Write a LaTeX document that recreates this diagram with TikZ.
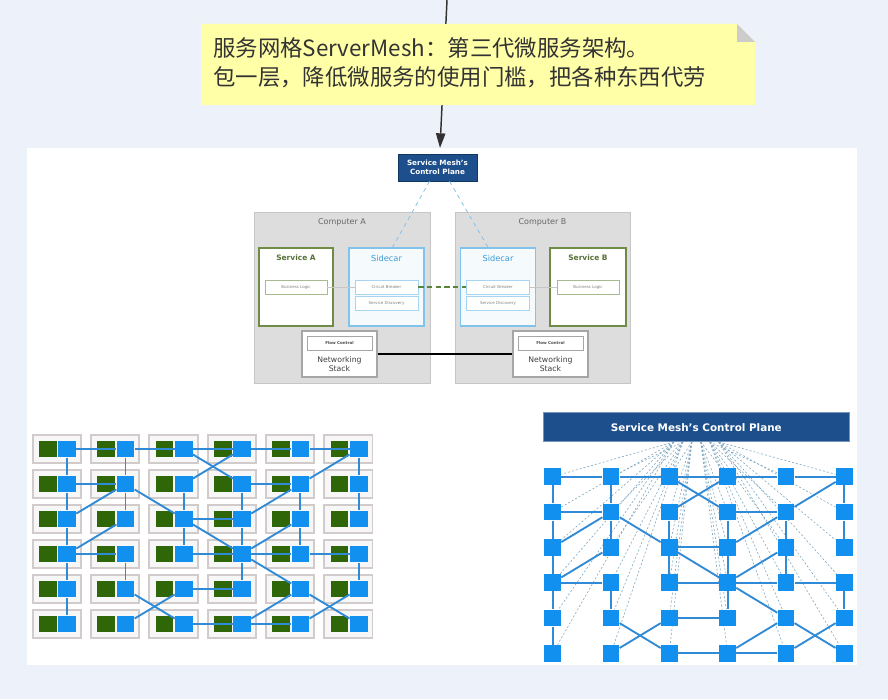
\documentclass[tikz,border=0pt]{standalone}
\usepackage{fontspec}
\setmainfont{DejaVu Sans}
\newfontfamily\cjk{Noto Sans CJK SC}
\usepackage{tikz}
\usetikzlibrary{arrows.meta, positioning, calc}
\definecolor{fondoPag}{RGB}{237,242,250}
\definecolor{notaAmar}{RGB}{255,255,168}
\definecolor{azulMesh}{RGB}{29,79,140}
\definecolor{azulNodo}{RGB}{18,144,240}
\definecolor{azulEnl}{RGB}{48,138,214}
\definecolor{azulSide}{RGB}{130,195,235}
\definecolor{azulTit}{RGB}{60,155,215}
\definecolor{verdeMesh}{RGB}{46,102,8}
\definecolor{verdeSrv}{RGB}{110,140,70}
\definecolor{grisComp}{RGB}{221,221,221}
\definecolor{grisCelda}{RGB}{210,203,203}
\definecolor{grisFlecha}{RGB}{50,50,50}
\pgfdeclarelayer{base}
\pgfdeclarelayer{trazos}
\pgfsetlayers{base,trazos,main}

\begin{document}
\begin{tikzpicture}[x=0.75pt, y=-0.75pt,
  flecha/.style={draw=grisFlecha, line width=1.1pt, -{Triangle[length=11pt, width=7pt]}},
  notetext/.style={font=\cjk\fontsize{16.8}{21.75}\selectfont, text=black!80, align=left, inner sep=0pt},
  cpbox/.style={fill=azulMesh, draw=azulMesh!70!black, text=white, align=center, inner sep=0pt,
    font=\bfseries\fontsize{5.4}{6.6}\selectfont},
  compbox/.style={fill=grisComp, draw=gray!45, minimum height=128.25pt, inner sep=0pt},
  complabel/.style={text=gray!80!black, font=\fontsize{6}{7}\selectfont, inner sep=0pt},
  srvbox/.style={fill=white, draw=verdeSrv, line width=1.1pt, minimum height=58.5pt, inner sep=0pt},
  srvtitle/.style={text=verdeSrv!80!black, font=\bfseries\fontsize{5.6}{7}\selectfont, inner sep=0pt},
  scbox/.style={fill=azulSide!8, draw=azulSide, line width=1.1pt, minimum width=56.25pt, minimum height=58.5pt, inner sep=0pt},
  sctitle/.style={text=azulTit, font=\fontsize{6.2}{7}\selectfont, inner sep=0pt},
  blbox/.style={fill=white, draw=verdeSrv!60, minimum width=46.5pt, minimum height=10.5pt, inner sep=0pt,
    text=gray, font=\fontsize{3}{3.5}\selectfont},
  cbbox/.style={fill=white, draw=azulSide!70, minimum width=47.25pt, minimum height=10.5pt, inner sep=0pt,
    text=gray, font=\fontsize{3}{3.5}\selectfont},
  netbox/.style={fill=white, draw=gray!70, line width=0.8pt, minimum width=56.25pt, minimum height=34.5pt, inner sep=0pt},
  fcbox/.style={fill=white, draw=gray!70, minimum width=48.75pt, minimum height=10.5pt, inner sep=0pt,
    text=black!70, font=\bfseries\fontsize{3}{3.5}\selectfont},
  nettext/.style={align=center, text=black!75, font=\fontsize{5.8}{7.2}\selectfont, inner sep=0pt},
  enlVerde/.style={draw=verdeMesh!80, line width=1.5pt, dash pattern=on 4pt off 2.5pt},
  enlNegro/.style={draw=black, line width=2.2pt},
  enlCtrl/.style={draw=azulSide, line width=0.6pt, dashed},
  celda/.style={draw=grisCelda, line width=1.4pt, fill=gray!6},
  cuadAzul/.style={fill=azulNodo, minimum width=13.3pt, minimum height=12.5pt, inner sep=0pt},
  cuadVerde/.style={fill=verdeMesh, minimum width=13.3pt, minimum height=12.5pt, inner sep=0pt},
  enlAzul/.style={draw=azulEnl, line width=1.4pt},
  enlPunt/.style={draw=azulSide!60!gray, line width=0.45pt, dash pattern=on 1.5pt off 1.5pt},
  cpbar/.style={fill=azulMesh, draw=azulMesh!60, text=white, inner sep=0pt,
    minimum width=229.5pt, minimum height=21.75pt, font=\bfseries\fontsize{7.8}{9}\selectfont}]

  % Fondo
  \begin{pgfonlayer}{base}
    \fill[fondoPag] (0,0) rectangle (888,699);
    \fill[white] (27,148) rectangle (857,665);
  \end{pgfonlayer}
  \useasboundingbox (0,0) rectangle (888,699);

  % Flecha y nota
  \coordinate (arrIni) at (447,0);
  \coordinate (arrFin) at (440,148);
  \draw[flecha] (arrIni) -- (arrFin);
  \fill[notaAmar] (201,24) -- (737,24) -- (755,42) -- (755,105) -- (201,105) -- cycle;
  \fill[gray!40] (737,24) -- (737,42) -- (755,42) -- cycle;
  \node[notetext, anchor=west] (nota) at (213,62.5)
    {服务网格ServerMesh：第三代微服务架构。\\包一层，降低微服务的使用门槛，把各种东西代劳};

  % Sidecar: plano de control y dos equipos
  \node[cpbox, minimum width=59.25pt, minimum height=20.25pt] (cpA) at (437.5,167.5) {Service Mesh's\\Control Plane};
  \node[compbox, minimum width=132pt] (compA) at (342,297.5) {};
  \node[compbox, minimum width=131.25pt] (compB) at (542.5,297.5) {};
  \node[complabel] (labA) at (342,222) {Computer A};
  \node[complabel] (labB) at (542.5,222) {Computer B};
  % Computer A
  \node[srvbox, minimum width=55.5pt] (srvA) at (296,287) {};
  \node[srvtitle] (tsrvA) at (296,258) {Service A};
  \node[blbox] (blA) at (296,287) {Business Logic};
  \node[scbox] (scA) at (386.5,287) {};
  \node[sctitle] (tscA) at (386.5,258) {Sidecar};
  \node[cbbox] (cbA) at (386.5,287) {Circuit Breaker};
  \node[cbbox] (sdA) at (386.5,303) {Service Discovery};
  \node[netbox] (netA) at (339.5,354) {};
  \node[fcbox] (fcA) at (339.5,343) {Flow Control};
  \node[nettext] (ntA) at (339.5,364) {Networking\\Stack};
  % Computer B
  \node[scbox] (scB) at (498,287) {};
  \node[sctitle] (tscB) at (498,258) {Sidecar};
  \node[cbbox] (cbB) at (498,287) {Circuit Breaker};
  \node[cbbox] (sdB) at (498,303) {Service Discovery};
  \node[srvbox, minimum width=57pt] (srvB) at (588,287) {};
  \node[srvtitle] (tsrvB) at (588,258) {Service B};
  \node[blbox] (blB) at (588,287) {Business Logic};
  \node[netbox] (netB) at (550.5,354) {};
  \node[fcbox] (fcB) at (550.5,343) {Flow Control};
  \node[nettext] (ntB) at (550.5,364) {Networking\\Stack};
  % Enlaces
  \draw[gray!45] (blA) -- (cbA);
  \draw[gray!45] (cbB) -- (blB);
  \draw[enlVerde] (cbA) -- (cbB);
  \draw[enlNegro] (netA) -- (netB);
  \draw[enlCtrl] ($(cpA.south)+(-8,0)$) -- ($(scA.north)+(6,0)$);
  \draw[enlCtrl] ($(cpA.south)+(12,0)$) -- ($(scB.north)+(-10,0)$);

  % Mallas: izquierda con servicios, derecha con plano de control
  \node[cpbar] (cpB) at (696.3,427.2) {Service Mesh's Control Plane};
  \foreach \cx in {0,...,5}{
    \foreach \ry in {0,...,5}{
      \draw[celda] ({32.7+58.3*\cx},{435+35*\ry}) rectangle +(48.3,28);
      \node[cuadAzul] (L-\cx-\ry) at ({67.2+58.3*\cx},{449+35*\ry}) {};
      \node[cuadVerde, left=0.75pt of L-\cx-\ry] (G-\cx-\ry) {};
      \node[cuadAzul, minimum width=12.5pt] (R-\cx-\ry) at ({552.7+58.3*\cx},{476.7+35.3*\ry}) {};
    }
  }
  \def\enlaces{0/0/1/0, 1/0/2/0, 2/0/3/0, 3/0/4/0, 4/0/5/0, 0/1/1/1, 3/1/4/1, 2/2/3/2,
    0/3/1/3, 2/3/3/3, 3/3/4/3, 4/3/5/3, 2/4/3/4, 2/5/3/5, 3/5/4/5,
    0/0/0/1, 0/1/0/2, 0/2/0/3, 0/3/0/4, 0/4/0/5, 1/0/1/1, 1/1/1/2, 1/3/1/4,
    2/1/2/2, 2/2/2/3, 3/1/3/2, 3/2/3/3, 3/3/3/4, 4/1/4/2, 4/2/4/3,
    5/0/5/1, 5/1/5/2, 5/3/5/4,
    1/1/0/2, 1/2/0/3, 1/1/2/2, 2/0/3/1, 3/0/2/1, 5/0/4/1, 4/1/3/2, 2/2/3/3,
    4/2/3/3, 3/3/4/4, 1/4/2/5, 2/4/1/5, 4/4/3/5, 4/4/5/5, 5/4/4/5}
  \foreach \a/\b/\p/\q in \enlaces{
    \draw[enlAzul] (L-\a-\b) -- (L-\p-\q);
    \draw[enlAzul] (R-\a-\b) -- (R-\p-\q);
  }
  \begin{pgfonlayer}{trazos}
    \foreach \cx in {0,...,5}{
      \foreach \ry in {0,...,5}{
        \draw[enlPunt] ($(cpB.south)+({(\cx-2.5)*9},0)$) -- (R-\cx-\ry);
      }
    }
  \end{pgfonlayer}
\end{tikzpicture}
\end{document}
